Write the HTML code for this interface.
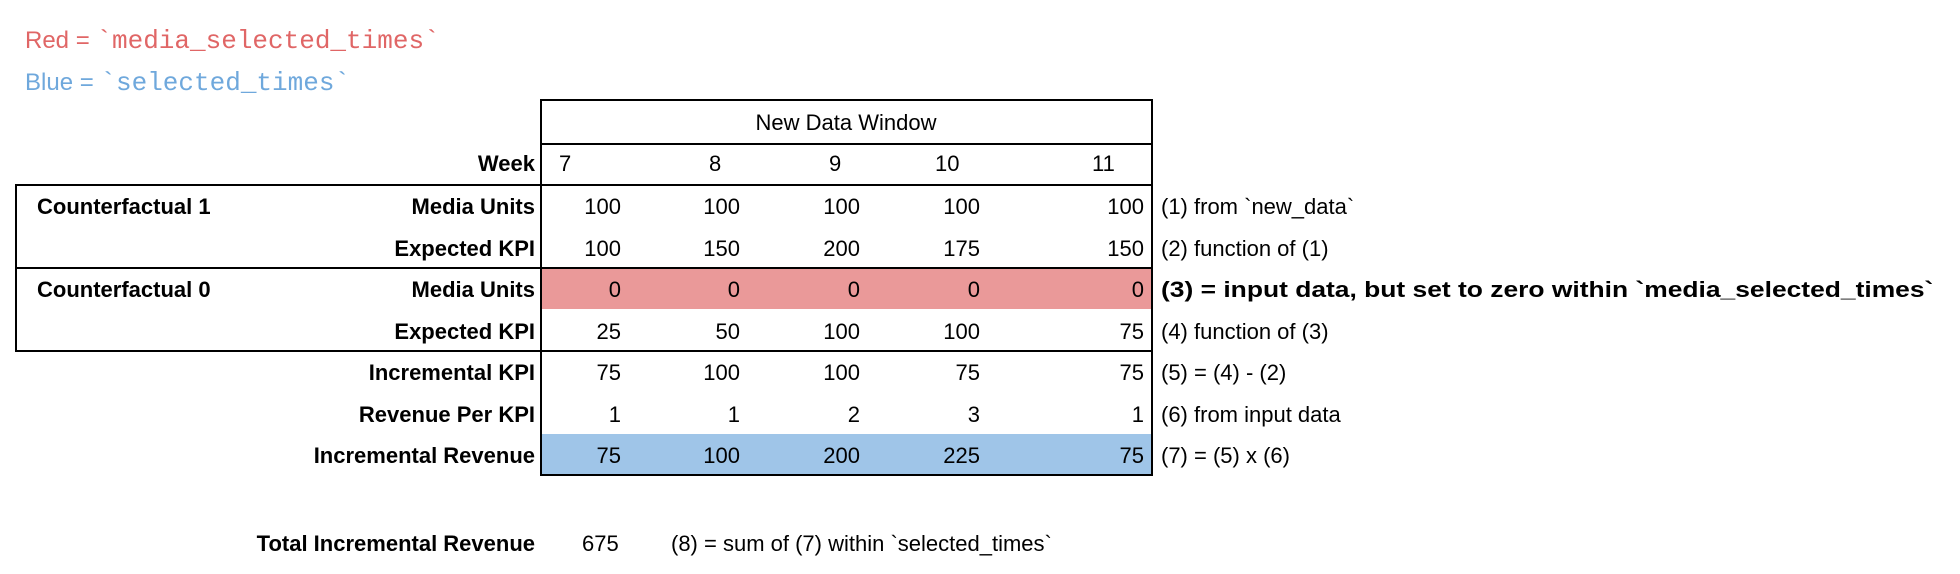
<!DOCTYPE html>
<html><head><meta charset="utf-8"><style>
body{margin:0;width:1960px;height:574px;background:#fff;position:relative;overflow:hidden;font-family:"Liberation Sans",Arial,sans-serif;font-size:22px;color:#000}
.a{position:absolute;white-space:nowrap;line-height:1}
.l{position:absolute;background:#000}
.b{font-weight:bold}
.r{text-align:right}
.m{font-family:"Liberation Mono",monospace;font-size:26px}
</style></head><body>
<div class="a" style="left:25px;top:28px;color:#e06666;font-size:24px">Red = <span class="m">`media_selected_times`</span></div>
<div class="a" style="left:25px;top:70px;color:#6fa8dc;font-size:24px">Blue = <span class="m">`selected_times`</span></div>

<div style="position:absolute;left:541px;top:268px;width:610px;height:41px;background:#ea9999"></div>
<div style="position:absolute;left:541px;top:434px;width:610px;height:41px;background:#9fc5e8"></div>

<div class="l" style="left:541px;top:99px;width:612px;height:2px"></div>
<div class="l" style="left:541px;top:143px;width:612px;height:2px"></div>
<div class="l" style="left:15px;top:184px;width:1138px;height:2px"></div>
<div class="l" style="left:15px;top:267px;width:1138px;height:2px"></div>
<div class="l" style="left:15px;top:350px;width:1138px;height:2px"></div>
<div class="l" style="left:541px;top:474px;width:612px;height:2px"></div>
<div class="l" style="left:540px;top:99px;width:2px;height:377px"></div>
<div class="l" style="left:1151px;top:99px;width:2px;height:377px"></div>
<div class="l" style="left:15px;top:184px;width:2px;height:168px"></div>

<div class="a" style="left:541px;width:610px;top:112px;text-align:center">New Data Window</div>
<div class="a b r" style="left:0;width:535px;top:153px">Week</div>
<div class="a" style="left:559px;top:153px">7</div>
<div class="a" style="left:709px;top:153px">8</div>
<div class="a" style="left:829px;top:153px">9</div>
<div class="a" style="left:935px;top:153px">10</div>
<div class="a" style="left:1092px;top:153px">11</div>

<div class="a b" style="left:37px;top:196px">Counterfactual 1</div>
<div class="a b" style="left:37px;top:279px">Counterfactual 0</div>

<div id="rows"></div>
<script>
var rows=[
["Media Units",["100","100","100","100","100"],"(1) from `new_data`",0],
["Expected KPI",["100","150","200","175","150"],"(2) function of (1)",0],
["Media Units",["0","0","0","0","0"],"(3) = input data, but set to zero within `media_selected_times`",1],
["Expected KPI",["25","50","100","100","75"],"(4) function of (3)",0],
["Incremental KPI",["75","100","100","75","75"],"(5) = (4) - (2)",0],
["Revenue Per KPI",["1","1","2","3","1"],"(6) from input data",0],
["Incremental Revenue",["75","100","200","225","75"],"(7) = (5) x (6)",0]];
var ends=[621,740,860,980,1144],h="";
rows.forEach(function(r,i){var t=196+i*41.5;
h+='<div class="a b r" style="left:0;width:535px;top:'+t+'px">'+r[0]+'</div>';
r[1].forEach(function(v,j){h+='<div class="a r" style="left:'+(ends[j]-100)+'px;width:100px;top:'+t+'px">'+v+'</div>';});
h+='<div class="a'+(r[3]?' b':'')+'" style="left:1161px;top:'+t+'px;'+(r[3]?'transform:scaleX(1.2);transform-origin:0 0;':'')+'">'+r[2]+'</div>';});
document.getElementById('rows').innerHTML=h;
</script>

<div class="a b r" style="left:0;width:535px;top:533px">Total Incremental Revenue</div>
<div class="a" style="left:582px;top:533px">675</div>
<div class="a" style="left:671px;top:533px">(8) = sum of (7) within `selected_times`</div>
</body></html>
